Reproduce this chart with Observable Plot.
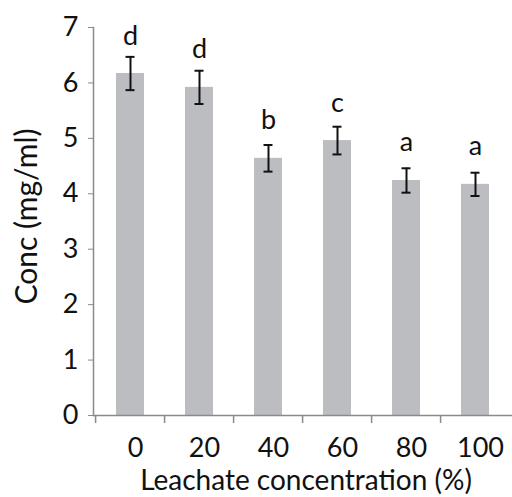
<!DOCTYPE html>
<html><head>
<meta charset="utf-8">
<script src="https://cdn.jsdelivr.net/npm/d3@7"></script>
<script src="https://cdn.jsdelivr.net/npm/@observablehq/plot@0.6"></script>
<style>
body{margin:0;background:#fff;}
</style>
</head><body><div id="chart"></div>
<script>
const categories = ["0","20","40","60","80","100"];
const means = [6.17, 5.92, 4.64, 4.96, 4.24, 4.17];
const errors = [0.30, 0.30, 0.24, 0.25, 0.22, 0.21];
const letters = ["d","d","b","c","a","a"];
const yTicks = [0,1,2,3,4,5,6,7];
const xTitle = "Leachate concentration (%)";
const yTitle = "Conc (mg/ml)";

const data = categories.map((c,i)=>({cat:c, mean:means[i], err:errors[i], letter:letters[i]}));

const W = 512, H = 497, ML = 93, MR = 0;
const step = (W - ML - MR) / categories.length;
const FS = 27;

const chart = Plot.plot({
  width: W, height: H,
  marginLeft: ML, marginRight: MR, marginTop: 27, marginBottom: 82,
  style: {fontFamily: "Lato, sans-serif", fontSize: FS + "px", background: "#fff"},
  x: {domain: categories, paddingInner: 0.6, paddingOuter: 0.3},
  y: {domain: [0, 7]},
  marks: [
    Plot.barY(data, {x: "cat", y: "mean", fill: "#bcbdc1"}),
    Plot.ruleX(data, {x: "cat", y1: d => d.mean - d.err, y2: d => d.mean + d.err, stroke: "#111", strokeWidth: 2}),
    Plot.tickY(data, {x: "cat", y: d => d.mean - d.err, stroke: "#111", strokeWidth: 2, inset: 9.5}),
    Plot.tickY(data, {x: "cat", y: d => d.mean + d.err, stroke: "#111", strokeWidth: 2, inset: 9.5}),
    Plot.text(data, {x: "cat", y: "mean", text: "letter", dy: -29, lineAnchor: "bottom", fontSize: FS, fill: "#111"}),
    Plot.ruleY([0], {stroke: "#8a8a8a", strokeWidth: 1.5}),
    Plot.frame({anchor: "left", stroke: "#8a8a8a", strokeWidth: 1.5}),
    Plot.axisY({ticks: yTicks, tickFormat: d3.format("d"), tickSize: 5, tickPadding: 10, stroke: "#8a8a8a", fill: "#111", fontSize: FS, label: null}),
    Plot.axisX({tickSize: 8, dx: -step/2, tickFormat: () => "", stroke: "#8a8a8a", strokeWidth: 1.5, label: null}),
    Plot.axisX({tickSize: 0, tickPadding: 22, dx: 5, fill: "#111", fontSize: FS, label: null}),
    Plot.text([yTitle], {frameAnchor: "left", rotate: -90, dx: -66, dy: -5, fontSize: 30, textAnchor: "middle", lineAnchor: "middle", fill: "#111"}),
    Plot.text([xTitle], {frameAnchor: "bottom", dx: 3, dy: 66, fontSize: 28, textAnchor: "middle", lineAnchor: "middle", fill: "#111"})
  ]
});
document.getElementById("chart").appendChild(chart);
</script>
</body></html>
